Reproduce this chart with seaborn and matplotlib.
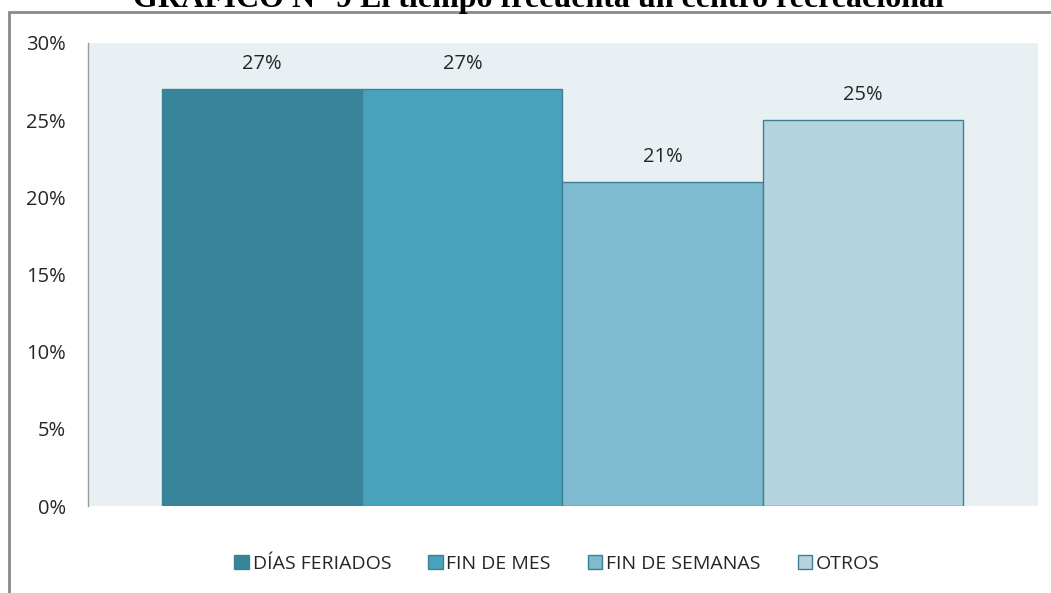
import matplotlib
matplotlib.use("Agg")
import matplotlib.pyplot as plt
import seaborn as sns
import pandas as pd
from matplotlib.patches import Patch, Rectangle

categories = ["DÍAS FERIADOS", "FIN DE MES", "FIN DE SEMANAS", "OTROS"]
values = [27, 27, 21, 25]
value_labels = ["27%", "27%", "21%", "25%"]
yticks = [0, 5, 10, 15, 20, 25, 30]
ytick_labels = ["0%", "5%", "10%", "15%", "20%", "25%", "30%"]
colors = ["#38849A", "#48A2BB", "#7EBAD0", "#B5D4DF"]
title = "GRAFICO N° 9 El tiempo frecuenta un centro recreacional"

sns.set_theme(style="white")
plt.rcParams["font.family"] = ["Open Sans", "DejaVu Sans"]

W, H = 1051, 593
fig = plt.figure(figsize=(W / 100, H / 100), dpi=100)
ax = fig.add_axes([88 / W, (H - 506) / H, 950 / W, 463 / H])
ax.set_facecolor("#E9F0F4")

df = pd.DataFrame({"cat": categories, "val": values})
sns.barplot(data=df, x="cat", y="val", hue="cat", palette=colors, width=1.0,
            edgecolor="#3E8196", linewidth=1.0, ax=ax, legend=False, saturation=1)

ax.set_xlim(-0.87, 3.875)
ax.set_ylim(0, 30)
ax.set_yticks(yticks)
ax.set_yticklabels(ytick_labels, fontsize=14.5, color="#262626")
ax.set_xticks([])
ax.set_xlabel("")
ax.set_ylabel("")
ax.tick_params(axis="y", length=0, pad=16)
for s in ["top", "right", "bottom"]:
    ax.spines[s].set_visible(False)
ax.spines["left"].set_color("#999999")
ax.spines["left"].set_linewidth(1.0)

for cont, lab in zip(ax.containers, value_labels):
    ax.bar_label(cont, labels=[lab], padding=11, fontsize=14.5, color="#262626")

handles = [Patch(facecolor=c, edgecolor="#3E8196", linewidth=1.0, label=l)
           for c, l in zip(colors, categories)]
fig.legend(handles=handles, loc="center", bbox_to_anchor=(557 / W, (H - 564) / H),
           ncol=4, frameon=False, fontsize=14, handlelength=0.75, handleheight=0.75,
           handletextpad=0.2, columnspacing=1.9, labelcolor="#262626")

fig.patches.append(Rectangle((9 / W, -0.2), 1.2, (H - 12) / H + 0.2, fill=False,
                             edgecolor="#8A8A8A", linewidth=2.0,
                             transform=fig.transFigure, figure=fig, clip_on=False))

fig.text(538 / W, (H - 7) / H, title, ha="center", va="baseline",
         fontfamily="Liberation Serif", fontweight="bold", fontsize=23, color="#000000")

fig.savefig("out.png", dpi=100, facecolor="white")
